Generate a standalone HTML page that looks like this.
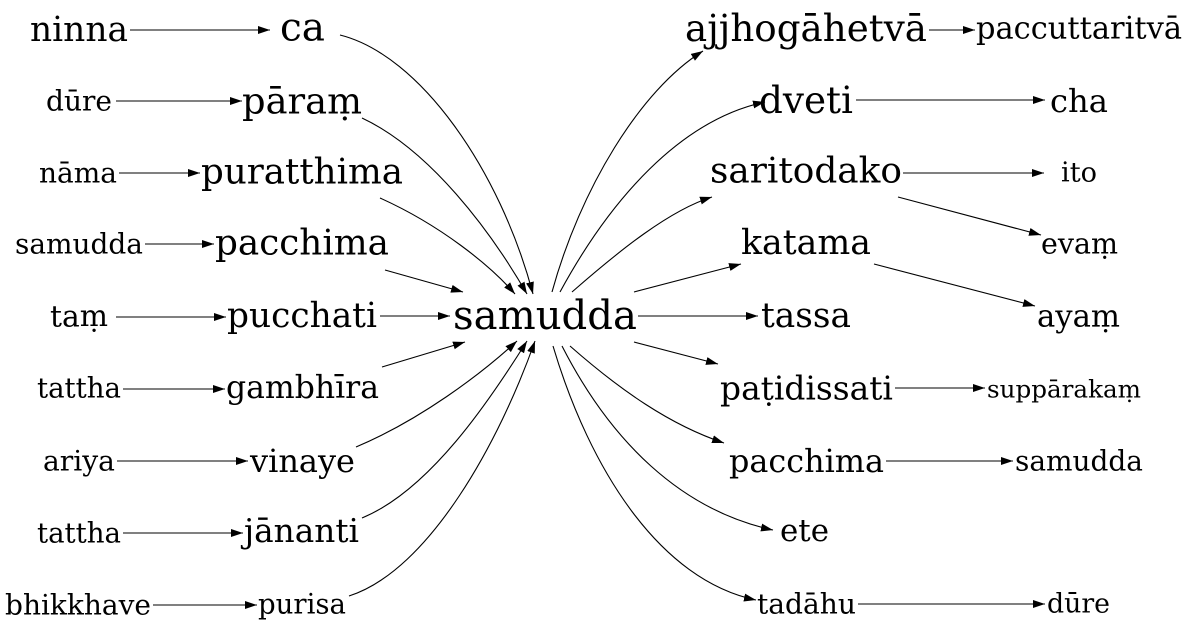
<!DOCTYPE html>
<html><head><meta charset="utf-8"><style>
html,body{margin:0;padding:0;background:#fff}
svg{display:block}
text{font-family:"DejaVu Serif","Liberation Serif",serif;fill:#000;dominant-baseline:central;text-anchor:middle}
path{fill:none;stroke:#000;stroke-width:1.1}
</style></head><body>
<svg width="1188" height="635" viewBox="0 0 1188 635">
<defs><marker id="ah" markerUnits="userSpaceOnUse" markerWidth="14" markerHeight="10" refX="12" refY="4" orient="auto"><path d="M0,0 L12,4 L0,8 Z" style="fill:#000;stroke:none"/></marker></defs>
<g id="edges"></g>
<g id="nodes"></g>
</svg>
<script>
const nodes=[
["ninna",30,128,30],["ca",280,325,28],["samudda",453,637,316],
["dūre",46,112,101],["pāraṃ",242,362,101],
["nāma",39,117,173],["puratthima",201,403,172],
["samudda",15,143,244],["pacchima",215,389,243],
["taṃ",50,108,317],["pucchati",227,377,316],
["tattha",37,121,388],["gambhīra",226,379,388],
["ariya",43,115,461],["vinaye",250,355,461],
["tattha",37,121,533],["jānanti",244,359,531],
["bhikkhave",5,151,605],["purisa",258,346,604],
["ajjhogāhetvā",685,927,28],["paccuttaritvā",976,1182,29],
["dveti",759,853,100],["cha",1050,1108,101],
["saritodako",710,902,171],["ito",1061,1097,173],
["evaṃ",1041,1118,244],["katama",741,871,243],
["ayaṃ",1037,1120,317],["tassa",761,851,316],
["paṭidissati",720,893,388],["suppārakaṃ",987,1141,389],
["pacchima",729,884,461],["samudda",1015,1143,461],
["ete",780,829,531],["tadāhu",757,856,604],["dūre",1047,1110,604]];
const edges=[
"M130,30 L270,30","M116,101 L242,101","M119,173 L200,173","M145,244 L214,244",
"M116,317 L226,317","M123,389 L225,389","M117,461 L248,461","M123,533 L243,533","M153,605 L257,605",
"M340,35 C420,55 500,170 533,294","M362,118 C430,150 490,230 527,294","M380,198 C440,225 490,265 515,294",
"M385,270 L463,292","M380,316 L450,316","M382,367 L465,342",
"M356,447 C420,420 480,375 517,341","M362,518 C430,490 490,400 527,341","M349,596 C430,570 500,440 535,341",
"M552,292 C580,190 640,90 703,51","M560,292 C610,200 680,120 765,102","M572,292 C620,250 670,210 712,197",
"M634,292 L741,264","M638,316 L758,316","M634,342 L718,364",
"M570,346 C620,390 670,425 724,443","M562,346 C610,440 680,510 773,530","M553,346 C590,470 660,580 756,600",
"M929,30 L975,30","M856,100 L1045,100","M903,173 L1044,173","M898,197 L1041,235",
"M874,264 L1035,306","M895,388 L985,388","M886,461 L1013,461","M858,604 L1045,604"];
const NS="http://www.w3.org/2000/svg";
const eg=document.getElementById('edges'),ng=document.getElementById('nodes');
edges.forEach(d=>{const p=document.createElementNS(NS,'path');p.setAttribute('d',d);p.setAttribute('marker-end','url(#ah)');


eg.appendChild(p);});
nodes.forEach(n=>{const t=document.createElementNS(NS,'text');t.textContent=n[0];
t.setAttribute('x',(n[1]+n[2])/2);t.setAttribute('y',n[3]);t.setAttribute('font-size',20);


ng.appendChild(t);
const w=t.getComputedTextLength();
if(w>0){t.setAttribute('font-size',(20*(n[2]-n[1])/w).toFixed(2));}
});
</script>
</body></html>
